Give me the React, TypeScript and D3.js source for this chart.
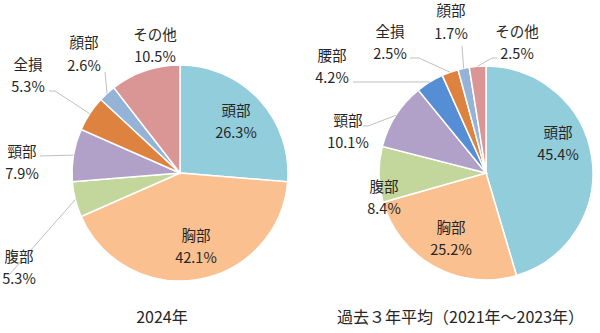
import { useEffect, useRef } from "react";
import * as d3 from "d3";

// categories, in drawing order (clockwise from 12 o'clock)
const categories = ["頭部", "胸部", "腹部", "頸部", "腰部", "全損", "顔部", "その他"];
const share2024 = [26.3, 42.1, 5.3, 7.9, 0, 5.3, 2.6, 10.5];
const shareAvg = [45.4, 25.2, 8.4, 10.1, 4.2, 2.5, 1.7, 2.5];
const captions = ["2024年", "過去３年平均（2021年～2023年）"];

const colors: Record<string, string> = {
  頭部: "#92CDDC",
  胸部: "#FAC090",
  腹部: "#C3D69B",
  頸部: "#B1A0C7",
  腰部: "#558ED5",
  全損: "#DE8240",
  顔部: "#95B3D7",
  その他: "#D99694",
};

interface LabelPos {
  x: number; // label block centre
  y: number;
  lead?: [number, number][]; // leader points before the slice edge
}

// label layout, per pie (absolute page coords, like the manual placement in the original)
const layoutLeft: Record<string, LabelPos> = {
  頭部: { x: 236, y: 122 },
  胸部: { x: 196, y: 247 },
  腹部: { x: 19, y: 268, lead: [[9, 275]] },
  頸部: { x: 22, y: 163, lead: [[40, 156]] },
  全損: { x: 28, y: 76, lead: [[49, 91], [55, 91]] },
  顔部: { x: 84, y: 54.5, lead: [[105, 72]] },
  その他: { x: 155, y: 46 },
};

const layoutRight: Record<string, LabelPos> = {
  頭部: { x: 558, y: 144 },
  胸部: { x: 451, y: 239 },
  腹部: { x: 384, y: 198 },
  頸部: { x: 348, y: 132, lead: [[363, 126], [368, 126]] },
  腰部: { x: 332, y: 67, lead: [[353, 82]] },
  全損: { x: 390, y: 43, lead: [[410, 58], [419, 58]] },
  顔部: { x: 451, y: 22.5, lead: [[462, 46]] },
  その他: { x: 517, y: 43, lead: [[497, 58], [492, 58]] },
};

const FONT = "'Noto Sans CJK JP', 'Noto Sans', sans-serif";

export default function App() {
  const svgRef = useRef<SVGSVGElement>(null);

  useEffect(() => {
    if (!svgRef.current) return;
    const svg = d3.select(svgRef.current);
    svg.selectAll("*").remove();

    const pies = [
      { values: share2024, cx: 180, cy: 173, r: 108, layout: layoutLeft, caption: captions[0] },
      { values: shareAvg, cx: 486, cy: 173, r: 107, layout: layoutRight, caption: captions[1] },
    ];

    pies.forEach((p, pi) => {
      const rows = categories.map((c, i) => ({ cat: c, v: p.values[i] }));
      const arcs = d3.pie<{ cat: string; v: number }>().sort(null).value((d) => d.v)(rows);
      const arc = d3.arc<d3.PieArcDatum<{ cat: string; v: number }>>().innerRadius(0).outerRadius(p.r);

      const g = svg.append("g").attr("transform", `translate(${p.cx},${p.cy})`);
      g.selectAll("path")
        .data(arcs.filter((a) => a.data.v > 0))
        .join("path")
        .attr("d", arc)
        .attr("fill", (d) => colors[d.data.cat])
        .attr("stroke", "#fff")
        .attr("stroke-width", 1.5);

      // leader lines
      arcs.forEach((a) => {
        const pos = p.layout[a.data.cat];
        if (!pos || !pos.lead || a.data.v <= 0) return;
        const mid = (a.startAngle + a.endAngle) / 2;
        const edge: [number, number] = [p.cx + p.r * Math.sin(mid), p.cy - p.r * Math.cos(mid)];
        svg.append("path")
          .attr("d", d3.line()([...pos.lead, edge]))
          .attr("fill", "none")
          .attr("stroke", "#BFBFBF")
          .attr("stroke-width", 1);
      });

      // labels
      arcs.forEach((a) => {
        const pos = p.layout[a.data.cat];
        if (!pos || a.data.v <= 0) return;
        const t = svg.append("text")
          .attr("text-anchor", "middle")
          .style("font-family", FONT)
          .style("font-size", "14.5px")
          .style("fill", "#262626");
        t.append("tspan").attr("x", pos.x).attr("y", pos.y - 11.25).attr("dy", "0.35em").text(a.data.cat);
        t.append("tspan").attr("x", pos.x).attr("y", pos.y + 11.25).attr("dy", "0.35em").text(`${a.data.v.toFixed(1)}%`);
      });

      svg.append("text")
        .attr("x", pi === 0 ? 162 : 337)
        .attr("y", 317)
        .attr("dy", "0.35em")
        .attr("text-anchor", pi === 0 ? "middle" : "start")
        .style("font-family", FONT)
        .style("font-size", "16px")
        .style("fill", "#262626")
        .text(p.caption);
    });
  }, []);

  return (
    <svg
      ref={svgRef}
      width={600}
      height={333}
      style={{ position: "absolute", left: 0, top: 0, background: "#fff" }}
    />
  );
}
